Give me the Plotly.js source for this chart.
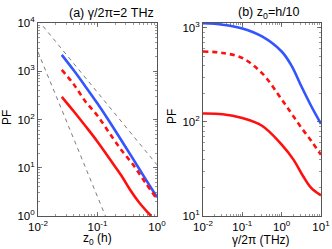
<!DOCTYPE html>
<html>
<head>
<meta charset="utf-8">
<script src="https://cdn.plot.ly/plotly-3.0.1.min.js"></script>
<style>html,body{margin:0;padding:0;background:#fff;}#chart{width:332px;height:249px;}</style>
</head>
<body>
<div id="chart"></div>
<script>
// ---- Panel (a): PF vs z0 (h), gamma/2pi = 2 THz ----
const aX = [0.0251, 0.0398, 0.0631, 0.1, 0.1585, 0.2512, 0.3981, 0.631, 1.0];
const aBlue = [2188, 1047, 479, 214, 91.2, 37.2, 15.1, 6.03, 2.45];
const aRedDash = [1072, 537, 234, 120, 52.5, 23.4, 11.5, 5.01, 2.24];
const aRedX = [0.0251, 0.0398, 0.0631, 0.1, 0.1585, 0.2512, 0.3548, 0.5012, 0.7943];
const aRedSolid = [295, 148, 72.4, 34.7, 15.5, 6.92, 3.47, 1.91, 1.0];
const guideX1 = [0.01, 1.0];
const guideY1 = [11500, 11.5];
const guideX2 = [0.01, 0.1359];
const guideY2 = [2512, 1.0];

// ---- Panel (b): PF vs gamma/2pi (THz), z0 = h/10 ----
const bX = [0.01, 0.0316, 0.1, 0.3162, 1.0, 1.778, 3.162, 5.623, 10.0];
const bBlue = [1122, 1084, 988, 813, 562, 398, 240, 148, 95.5];
const bRedDash = [562, 543, 479, 331, 174, 123, 87.1, 63.1, 44.7];
const bRedX = [0.01, 0.0316, 0.1, 0.3162, 1.0, 1.995, 3.548, 5.623, 10.0];
const bRedSolid = [123, 121, 110, 91.2, 57.5, 39.8, 26.3, 19.95, 16.6];

// ---- Tick labels ----
const aXTicks = [0.01, 0.1, 1];
const aXText = ['10<sup>-2</sup>', '10<sup>-1</sup>', '10<sup>0</sup>'];
const aYTicks = [1, 10, 100, 1000, 10000];
const aYText = ['10<sup>0</sup>', '10<sup>1</sup>', '10<sup>2</sup>', '10<sup>3</sup>', '10<sup>4</sup>'];
const bXTicks = [0.01, 0.1, 1, 10];
const bXText = ['10<sup>-2</sup>', '10<sup>-1</sup>', '10<sup>0</sup>', '10<sup>1</sup>'];
const bYTicks = [10, 100, 1000];
const bYText = ['10<sup>1</sup>', '10<sup>2</sup>', '10<sup>3</sup>'];

const BLUE = '#3355ff';
const RED = '#ff1010';
const GUIDE = '#444444';

const traces = [
  {x: guideX1, y: guideY1, xaxis: 'x', yaxis: 'y', mode: 'lines', line: {color: GUIDE, width: 0.7, dash: '4px,4px'}},
  {x: guideX2, y: guideY2, xaxis: 'x', yaxis: 'y', mode: 'lines', line: {color: GUIDE, width: 0.7, dash: '4px,4px'}},
  {x: aX, y: aBlue, xaxis: 'x', yaxis: 'y', mode: 'lines', line: {color: BLUE, width: 2.6, shape: 'spline'}},
  {x: aX, y: aRedDash, xaxis: 'x', yaxis: 'y', mode: 'lines', line: {color: RED, width: 2.6, dash: '5px,4px', shape: 'spline'}},
  {x: aRedX, y: aRedSolid, xaxis: 'x', yaxis: 'y', mode: 'lines', line: {color: RED, width: 2.6, shape: 'spline'}},
  {x: bX, y: bBlue, xaxis: 'x2', yaxis: 'y2', mode: 'lines', line: {color: BLUE, width: 2.6, shape: 'spline'}},
  {x: bX, y: bRedDash, xaxis: 'x2', yaxis: 'y2', mode: 'lines', line: {color: RED, width: 2.6, dash: '5px,4px', shape: 'spline'}},
  {x: bRedX, y: bRedSolid, xaxis: 'x2', yaxis: 'y2', mode: 'lines', line: {color: RED, width: 2.6, shape: 'spline'}}
];

const FONT = {family: 'Liberation Sans, Arial, sans-serif', size: 11.5, color: '#000'};
const TFONT = {family: 'Liberation Sans, Arial, sans-serif', size: 12, color: '#000'};
const AXC = '#555555';
function axis(extra) {
  return Object.assign({
    type: 'log', showgrid: false, zeroline: false, showline: true, linecolor: AXC, linewidth: 1,
    mirror: 'allticks', ticks: 'inside', ticklen: 4, tickcolor: AXC, tickwidth: 0.8,
    tickmode: 'array', tickfont: FONT,
    minor: {ticks: 'inside', ticklen: 2, tickcolor: AXC, tickwidth: 0.6, dtick: 'D1', showgrid: false}
  }, extra);
}

const layout = {
  width: 332, height: 249,
  margin: {l: 0, r: 0, t: 0, b: 0},
  paper_bgcolor: '#fff', plot_bgcolor: '#fff',
  showlegend: false,
  font: FONT,
  xaxis: axis({domain: [38/332, 157/332], range: [-2, 0], tickvals: aXTicks, ticktext: aXText, anchor: 'y'}),
  yaxis: axis({domain: [33/249, 226/249], range: [0, 4], tickvals: aYTicks, ticktext: aYText, anchor: 'x'}),
  xaxis2: axis({domain: [203/332, 321/332], range: [-2, 1], tickvals: bXTicks, ticktext: bXText, anchor: 'y2'}),
  yaxis2: axis({domain: [33/249, 226/249], range: [1, 3.053], tickvals: bYTicks, ticktext: bYText, anchor: 'x2'}),
  annotations: [
    {text: '(a) γ/2π=2 THz', xref: 'paper', yref: 'paper', x: 112/332, y: 1 - 13/249, showarrow: false, xanchor: 'center', yanchor: 'middle', font: {family: TFONT.family, size: 12.5, color: '#000'}},
    {text: '(b) z<sub>0</sub>=h/10', xref: 'paper', yref: 'paper', x: 269/332, y: 1 - 13/249, showarrow: false, xanchor: 'center', yanchor: 'middle', font: {family: TFONT.family, size: 12.5, color: '#000'}},
    {text: 'z<sub>0</sub> (h)', xref: 'paper', yref: 'paper', x: 97.5/332, y: 0, showarrow: false, xanchor: 'center', yanchor: 'bottom', yshift: 0, font: TFONT},
    {text: 'γ/2π (THz)', xref: 'paper', yref: 'paper', x: 261/332, y: 0, showarrow: false, xanchor: 'center', yanchor: 'bottom', yshift: 0, font: TFONT},
    {text: 'PF', xref: 'paper', yref: 'paper', x: 7/332, y: 1 - 117/249, showarrow: false, textangle: -90, xanchor: 'center', yanchor: 'middle', font: TFONT},
    {text: 'PF', xref: 'paper', yref: 'paper', x: 172/332, y: 1 - 117/249, showarrow: false, textangle: -90, xanchor: 'center', yanchor: 'middle', font: TFONT}
  ]
};

Plotly.newPlot('chart', traces, layout, {staticPlot: true, displayModeBar: false});
</script>
</body>
</html>
